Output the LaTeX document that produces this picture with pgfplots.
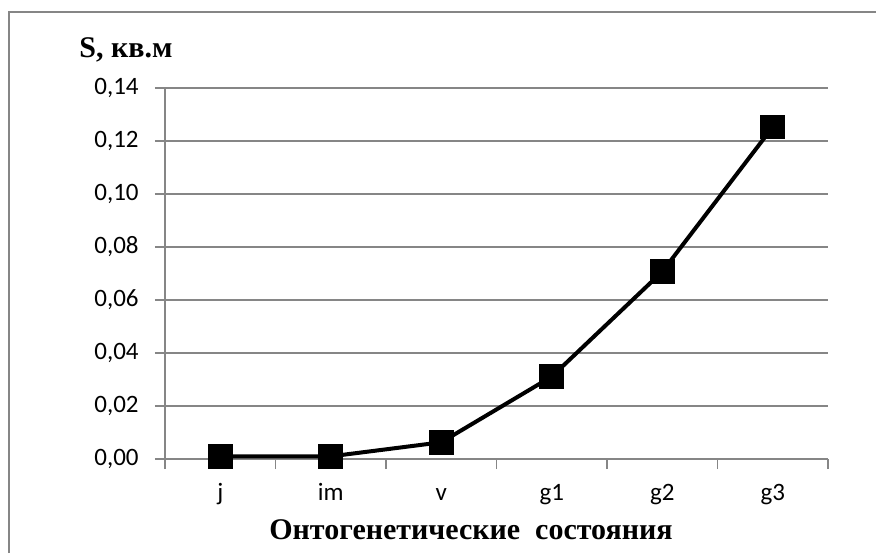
\documentclass[border=0pt]{standalone}
\usepackage{fontspec}
\setmainfont{Liberation Serif}
\newfontfamily\calibri{Carlito}
\usepackage{pgfplots}
\pgfplotsset{compat=1.18}
\definecolor{gridgray}{RGB}{134,134,134}
\begin{document}
\begin{tikzpicture}
% 1px = 0.5pt; plot area lower-left at (0,0)
\useasboundingbox (-82.5pt,-47pt) rectangle (355.5pt,229.5pt);
\draw[gridgray, line width=1pt] (-78pt,-47pt) -- (-78pt,223.5pt) -- (355.5pt,223.5pt);
\begin{axis}[
    at={(0,0)}, anchor=south west,
    scale only axis,
    width=331.5pt, height=185.5pt,
    xmin=0, xmax=6,
    ymin=0, ymax=0.14,
    xtick={0,1,2,3,4,5,6},
    xticklabels={},
    extra x ticks={0.5,1.5,2.5,3.5,4.5,5.5},
    extra x tick labels={j,im,v,g1,g2,g3},
    extra x tick style={major tick length=0pt, grid=none},
    ytick={0,0.02,0.04,0.06,0.08,0.10,0.12,0.14},
    y tick label style={/pgf/number format/fixed, /pgf/number format/fixed zerofill,
        /pgf/number format/precision=2, /pgf/number format/use comma,
        anchor=east, inner sep=0pt, xshift=-8pt},
    /pgf/number format/assume math mode=true,
    ticklabel style={font=\calibri\fontsize{12.5}{14}\selectfont, text=black},
    x tick label style={anchor=base, inner sep=0pt, yshift=-20.5pt},
    tick align=outside,
    major tick length=5pt,
    tick style={gridgray, line width=0.6pt},
    ymajorgrids=true,
    grid style={gridgray, line width=0.6pt},
    axis x line*=bottom,
    axis y line*=left,
    axis line style={gridgray, line width=0.6pt, -},
    clip=false,
]
\addplot[black, line width=2pt, mark=square*, mark size=5.2pt, mark options={solid, fill=black}]
    coordinates {
    (0.5,0.001)(1.5,0.001)(2.5,0.0063)(3.5,0.0311)(4.5,0.0707)(5.5,0.1253)};
\end{axis}
\node[anchor=base west, font=\fontsize{15}{17}\selectfont\bfseries, inner sep=0pt] at (-43pt,201pt) {S, кв.м};
\node[anchor=base, font=\fontsize{15}{17}\selectfont\bfseries, inner sep=0pt] at (153pt,-40pt) {Онтогенетические\ \ состояния};
\end{tikzpicture}
\end{document}
